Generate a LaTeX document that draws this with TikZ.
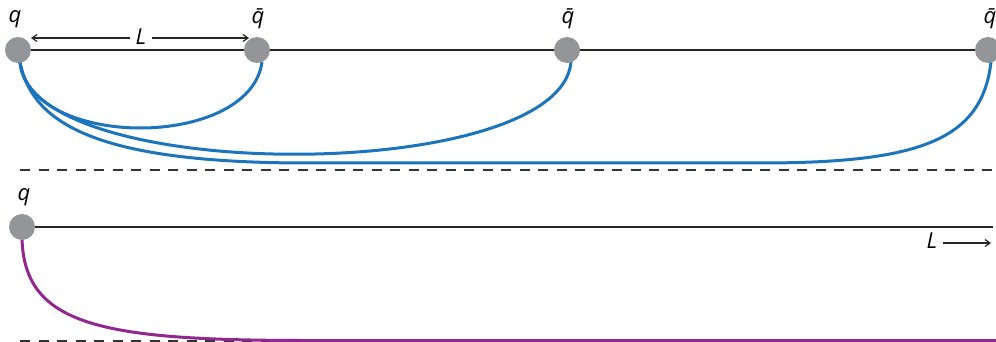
\documentclass[tikz,border=0pt]{standalone}
\usepackage{fontspec}
\setmainfont{Open Sans}
\usetikzlibrary{arrows.meta}
\definecolor{nodegray}{HTML}{939598}
\definecolor{qblue}{HTML}{1C75BC}
\definecolor{qpurple}{HTML}{92278F}
\tikzset{
  quark/.style={circle,fill=nodegray,inner sep=0pt,minimum size=26pt},
  lab/.style={font=\fontsize{22}{24}\selectfont\itshape,inner sep=1pt},
  string/.style={line width=3pt,qblue},
  flux/.style={line width=3pt,qpurple},
  axisline/.style={line width=1.4pt,black!85},
  sep/.style={line width=1.4pt,black!80,dash pattern=on 10pt off 8.5pt},
  dimarrow/.style={line width=1.2pt,black!85,{Straight Barb[length=5pt,width=7pt]}-{Straight Barb[length=5pt,width=7pt]}},
  dimarrowr/.style={line width=1.2pt,black!85,-{Straight Barb[length=5pt,width=7pt]}}
}
\begin{document}
\begin{tikzpicture}[x=1pt,y=-1pt]
\useasboundingbox (0,0) rectangle (996,342);
% top panel
\coordinate (topend) at (996,50);
\draw[axisline] (18,50) -- (topend);
\node[lab] (lq) at (15,19) {q};
\node[lab] (lqb1) at (258,19) {\=q};
\node[lab] (lqb2) at (568,19) {\=q};
\node[lab] (lqb3) at (990,19) {\=q};
\coordinate (La) at (31,38);
\coordinate (Lb) at (249,38);
\draw[dimarrow] (La) -- (Lb);
\node[lab,fill=white,inner xsep=6pt] (L1) at (141,37) {L};
% strings
\draw[string] (20,62) .. controls (30,150) and (250,150) .. (262,62);
\draw[string] (20,62) .. controls (28,185) and (560,185) .. (571,62);
\draw[string] (20,62) .. controls (32,125) and (100,162) .. (300,163) -- (760,163) .. controls (920,163) and (982,140) .. (991,62);
\node[quark] (q) at (18,50) {};
\node[quark] (qb1) at (257,50) {};
\node[quark] (qb2) at (567,50) {};
\node[quark] (qb3) at (988,50) {};
% separator
\coordinate (s1) at (20,170);
\coordinate (s2) at (992,170);
\draw[sep] (s1) -- (s2);
% bottom panel
\coordinate (botend) at (993,227);
\draw[axisline] (22,227) -- (botend);
\coordinate (s3) at (20,341);
\coordinate (s4) at (996,341);
\draw[sep] (s3) -- (s4);
\draw[flux] (22,238) .. controls (24,325) and (100,340) .. (300,340.5) -- (996,340.5);
\node[quark] (q2) at (22,227) {};
\node[lab] (lq2) at (24,197) {q};
\node[lab] (L2) at (932,241) {L};
\coordinate (Lc) at (943,243);
\coordinate (Ld) at (991,243);
\draw[dimarrowr] (Lc) -- (Ld);
\end{tikzpicture}
\end{document}
